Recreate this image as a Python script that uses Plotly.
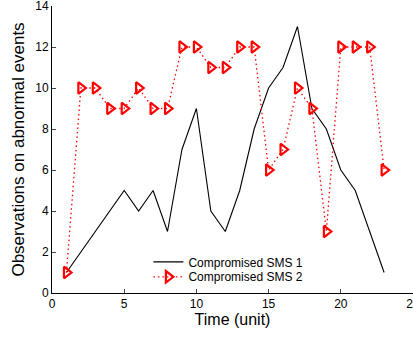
import plotly.graph_objects as go

time = list(range(1, 24))
sms1 = [1, 2, 3, 4, 5, 4, 5, 3, 7, 9, 4, 3, 5, 8, 10, 11, 13, 9, 8, 6, 5, 3, 1]
sms2 = [1, 10, 10, 9, 9, 10, 9, 9, 12, 12, 11, 11, 12, 12, 6, 7, 10, 9, 3, 12, 12, 12, 6]
x_ticks = [0, 5, 10, 15, 20, 25]
y_ticks = [0, 2, 4, 6, 8, 10, 12, 14]

fig = go.Figure()
fig.add_trace(go.Scatter(x=time, y=sms1, mode="lines", name="Compromised SMS 1",
                         line=dict(color="black", width=1.1), legend="legend"))
fig.add_trace(go.Scatter(x=time, y=sms2, mode="lines+markers", name="Compromised SMS 2",
                         line=dict(color="red", width=1.3, dash="1.5px,3px"),
                         marker=dict(symbol="triangle-right-open", color="red", size=10,
                                     line=dict(width=2.2, color="red")),
                         legend="legend2"))

fam = "Liberation Sans, Arial, sans-serif"
tick_font = dict(family=fam, size=12, color="black")
leg_common = dict(xanchor="left", yanchor="top", bgcolor="rgba(0,0,0,0)",
                  borderwidth=0, font=dict(family=fam, size=12, color="black"),
                  itemwidth=30)
fig.update_layout(
    width=413, height=338,
    margin=dict(l=52, r=0, t=6, b=45, autoexpand=False),
    paper_bgcolor="white", plot_bgcolor="white",
    font=dict(family=fam, color="black"),
    showlegend=True,
    legend=dict(x=0.267, y=0.159, **leg_common),
    legend2=dict(x=0.267, y=0.107, **leg_common),
    xaxis=dict(range=[0, 25], tickvals=x_ticks, ticks="inside", ticklen=4,
               showline=True, linecolor="black", linewidth=1, showgrid=False,
               zeroline=False, tickfont=tick_font, ticklabeloverflow="allow",
               automargin=False,
               title=dict(text="Time (unit)", font=dict(size=16), standoff=3)),
    yaxis=dict(range=[0, 14], tickvals=y_ticks, ticks="inside", ticklen=4,
               showline=True, linecolor="black", linewidth=1, showgrid=False,
               zeroline=False, tickfont=tick_font, ticklabeloverflow="allow",
               automargin=False,
               title=dict(text="Observations on abnormal events", font=dict(size=17), standoff=6)),
)
fig.write_html("out.html")
